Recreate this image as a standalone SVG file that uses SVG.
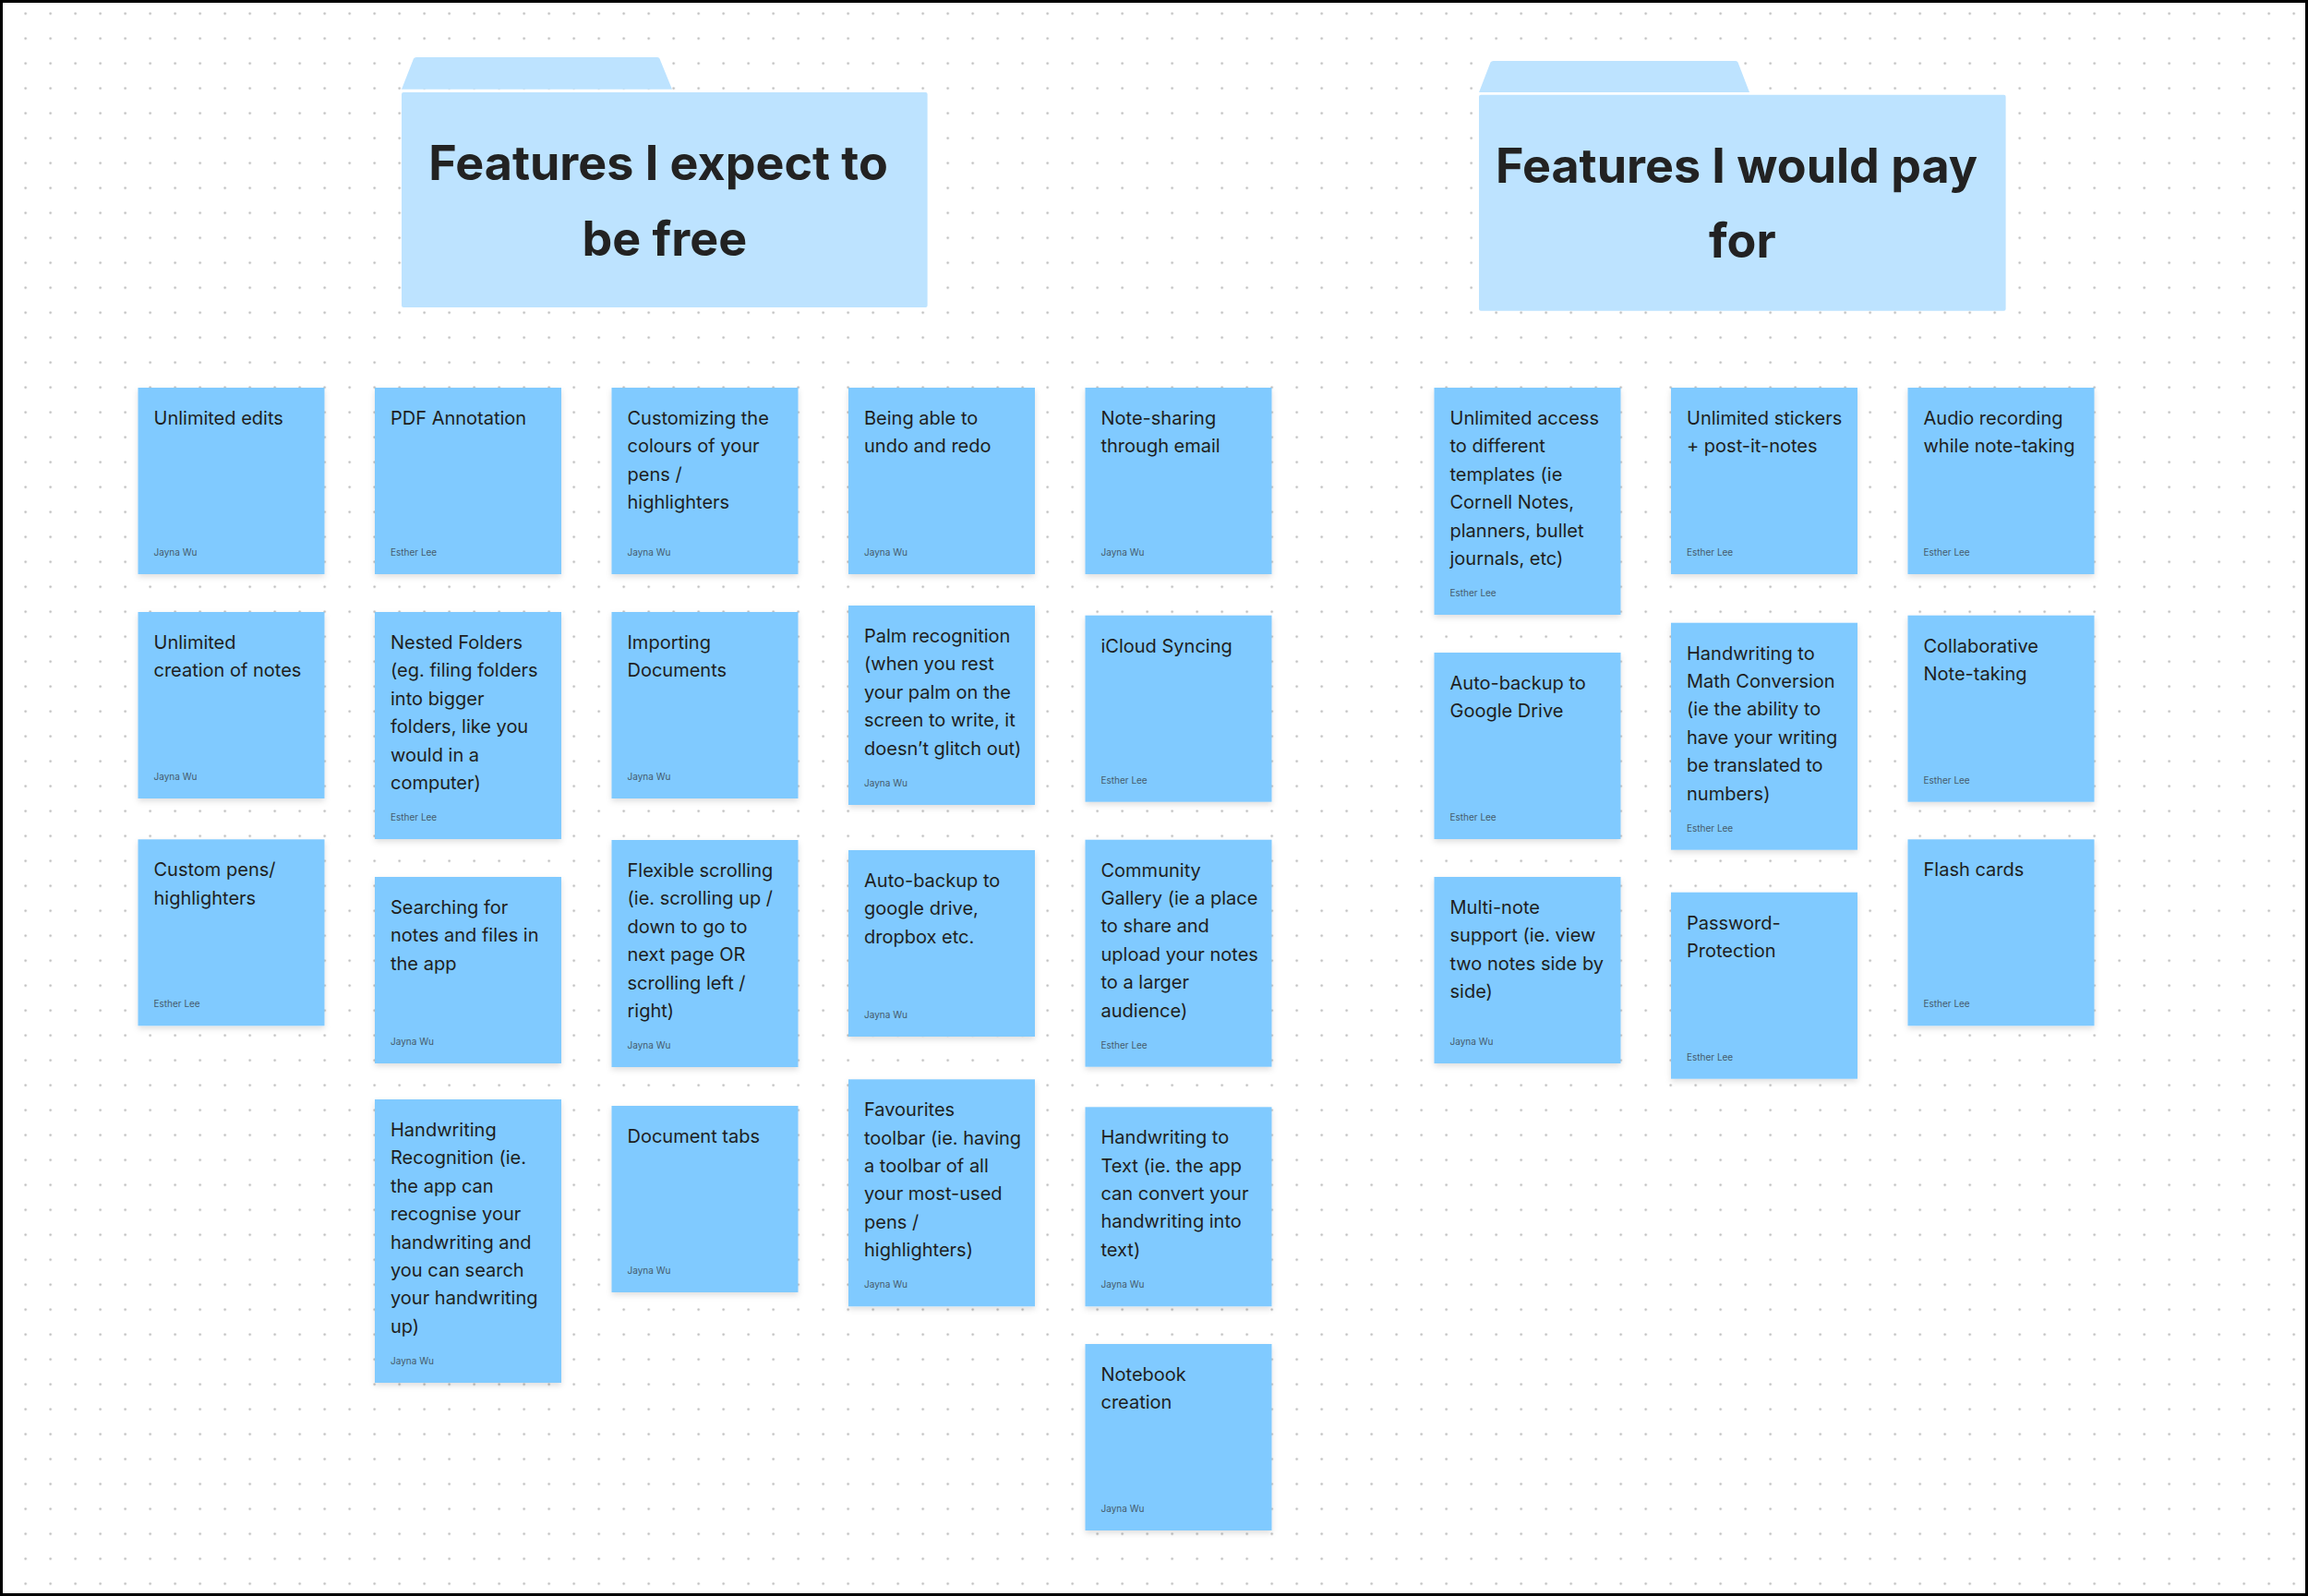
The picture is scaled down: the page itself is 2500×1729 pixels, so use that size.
<svg xmlns="http://www.w3.org/2000/svg" width="2500" height="1729" viewBox="0 0 2500 1729">
<style>
.note{fill:#80caff;filter:url(#sh)}
.t{font-family:Inter,"Noto Sans","Liberation Sans",sans-serif;font-size:20px;fill:#1e1e1e}
.a{font-family:Inter,"Noto Sans","Liberation Sans",sans-serif;font-size:10px;fill:#455b6b}
.folder{fill:#bde3ff}
.title{font-family:Inter,"Noto Sans","Liberation Sans",sans-serif;font-weight:700;font-size:52px;fill:#222222;text-anchor:middle}
</style>
<defs>
<pattern id="dots" patternUnits="userSpaceOnUse" x="-12.8" y="1.2" width="27" height="27"><circle cx="13.5" cy="13.5" r="1.2" fill="#b8b8b8"/></pattern>
<filter id="sh" x="-10%" y="-10%" width="120%" height="130%"><feDropShadow dx="0" dy="3" stdDeviation="3" flood-color="#000" flood-opacity="0.13"/></filter>
</defs>
<rect width="2500" height="1729" fill="#ffffff"/>
<rect width="2500" height="1729" fill="url(#dots)"/>

<g id="folder-free">
<path class="folder" d="M435,96.7 L448,63.5 Q449,62 451,62 L712,62 Q714,62 714.5,63.5 L728,96.7 Z"/>
<rect class="folder" x="435" y="100" width="569.6" height="233" rx="2"/>
<text class="title" x="713" y="195">Features I expect to</text>
<text class="title" x="719.8" y="276.5">be free</text>
</g>

<g id="folder-pay">
<path class="folder" d="M1602,100 L1614.5,67.5 Q1615.5,66 1617.5,66 L1880,66 Q1882,66 1882.5,67.5 L1895,100 Z"/>
<rect class="folder" x="1602" y="102.7" width="570.6" height="234" rx="2"/>
<text class="title" x="1881" y="198.3">Features I would pay</text>
<text class="title" x="1887.3" y="279.3">for</text>
</g>

<g id="connectors"></g>

<g id="n1" transform="translate(149.5,420)"><rect class="note" width="202" height="202"/><text class="t" x="17" y="40">Unlimited edits</text><text class="a" x="17" y="182">Jayna Wu</text></g>
<g id="n2" transform="translate(149.5,663)"><rect class="note" width="202" height="202"/><text class="t" y="40"><tspan x="17">Unlimited</tspan><tspan x="17" dy="30.4">creation of notes</tspan></text><text class="a" x="17" y="182">Jayna Wu</text></g>
<g id="n3" transform="translate(149.5,909.3)"><rect class="note" width="202" height="202"/><text class="t" y="40"><tspan x="17">Custom pens/</tspan><tspan x="17" dy="30.4">highlighters</tspan></text><text class="a" x="17" y="182">Esther Lee</text></g>

<g id="n4" transform="translate(406,420)"><rect class="note" width="202" height="202"/><text class="t" x="17" y="40">PDF Annotation</text><text class="a" x="17" y="182">Esther Lee</text></g>
<g id="n5" transform="translate(406,663)"><rect class="note" width="202" height="246"/><text class="t" y="40"><tspan x="17">Nested Folders</tspan><tspan x="17" dy="30.4">(eg. filing folders</tspan><tspan x="17" dy="30.4">into bigger</tspan><tspan x="17" dy="30.4">folders, like you</tspan><tspan x="17" dy="30.4">would in a</tspan><tspan x="17" dy="30.4">computer)</tspan></text><text class="a" x="17" y="226">Esther Lee</text></g>
<g id="n6" transform="translate(406,950)"><rect class="note" width="202" height="202"/><text class="t" y="40"><tspan x="17">Searching for</tspan><tspan x="17" dy="30.4">notes and files in</tspan><tspan x="17" dy="30.4">the app</tspan></text><text class="a" x="17" y="182">Jayna Wu</text></g>
<g id="n7" transform="translate(406,1191)"><rect class="note" width="202" height="307"/><text class="t" y="40"><tspan x="17">Handwriting</tspan><tspan x="17" dy="30.4">Recognition (ie.</tspan><tspan x="17" dy="30.4">the app can</tspan><tspan x="17" dy="30.4">recognise your</tspan><tspan x="17" dy="30.4">handwriting and</tspan><tspan x="17" dy="30.4">you can search</tspan><tspan x="17" dy="30.4">your handwriting</tspan><tspan x="17" dy="30.4">up)</tspan></text><text class="a" x="17" y="287">Jayna Wu</text></g>

<g id="n8" transform="translate(662.5,420)"><rect class="note" width="202" height="202"/><text class="t" y="40"><tspan x="17">Customizing the</tspan><tspan x="17" dy="30.4">colours of your</tspan><tspan x="17" dy="30.4">pens /</tspan><tspan x="17" dy="30.4">highlighters</tspan></text><text class="a" x="17" y="182">Jayna Wu</text></g>
<g id="n9" transform="translate(662.5,663)"><rect class="note" width="202" height="202"/><text class="t" y="40"><tspan x="17">Importing</tspan><tspan x="17" dy="30.4">Documents</tspan></text><text class="a" x="17" y="182">Jayna Wu</text></g>
<g id="n10" transform="translate(662.5,910)"><rect class="note" width="202" height="246"/><text class="t" y="40"><tspan x="17">Flexible scrolling</tspan><tspan x="17" dy="30.4">(ie. scrolling up /</tspan><tspan x="17" dy="30.4">down to go to</tspan><tspan x="17" dy="30.4">next page OR</tspan><tspan x="17" dy="30.4">scrolling left /</tspan><tspan x="17" dy="30.4">right)</tspan></text><text class="a" x="17" y="226">Jayna Wu</text></g>
<g id="n11" transform="translate(662.5,1198)"><rect class="note" width="202" height="202"/><text class="t" x="17" y="40">Document tabs</text><text class="a" x="17" y="182">Jayna Wu</text></g>

<g id="n12" transform="translate(919,420)"><rect class="note" width="202" height="202"/><text class="t" y="40"><tspan x="17">Being able to</tspan><tspan x="17" dy="30.4">undo and redo</tspan></text><text class="a" x="17" y="182">Jayna Wu</text></g>
<g id="n13" transform="translate(919,656)"><rect class="note" width="202" height="216"/><text class="t" y="40"><tspan x="17">Palm recognition</tspan><tspan x="17" dy="30.4">(when you rest</tspan><tspan x="17" dy="30.4">your palm on the</tspan><tspan x="17" dy="30.4">screen to write, it</tspan><tspan x="17" dy="30.4">doesn’t glitch out)</tspan></text><text class="a" x="17" y="196">Jayna Wu</text></g>
<g id="n14" transform="translate(919,921)"><rect class="note" width="202" height="202"/><text class="t" y="40"><tspan x="17">Auto-backup to</tspan><tspan x="17" dy="30.4">google drive,</tspan><tspan x="17" dy="30.4">dropbox etc.</tspan></text><text class="a" x="17" y="182">Jayna Wu</text></g>
<g id="n15" transform="translate(919,1169.3)"><rect class="note" width="202" height="246"/><text class="t" y="40"><tspan x="17">Favourites</tspan><tspan x="17" dy="30.4">toolbar (ie. having</tspan><tspan x="17" dy="30.4">a toolbar of all</tspan><tspan x="17" dy="30.4">your most-used</tspan><tspan x="17" dy="30.4">pens /</tspan><tspan x="17" dy="30.4">highlighters)</tspan></text><text class="a" x="17" y="226">Jayna Wu</text></g>

<g id="n16" transform="translate(1175.5,420)"><rect class="note" width="202" height="202"/><text class="t" y="40"><tspan x="17">Note-sharing</tspan><tspan x="17" dy="30.4">through email</tspan></text><text class="a" x="17" y="182">Jayna Wu</text></g>
<g id="n17" transform="translate(1175.5,666.7)"><rect class="note" width="202" height="202"/><text class="t" x="17" y="40">iCloud Syncing</text><text class="a" x="17" y="182">Esther Lee</text></g>
<g id="n18" transform="translate(1175.5,909.7)"><rect class="note" width="202" height="246"/><text class="t" y="40"><tspan x="17">Community</tspan><tspan x="17" dy="30.4">Gallery (ie a place</tspan><tspan x="17" dy="30.4">to share and</tspan><tspan x="17" dy="30.4">upload your notes</tspan><tspan x="17" dy="30.4">to a larger</tspan><tspan x="17" dy="30.4">audience)</tspan></text><text class="a" x="17" y="226">Esther Lee</text></g>
<g id="n19" transform="translate(1175.5,1199.3)"><rect class="note" width="202" height="216"/><text class="t" y="40"><tspan x="17">Handwriting to</tspan><tspan x="17" dy="30.4">Text (ie. the app</tspan><tspan x="17" dy="30.4">can convert your</tspan><tspan x="17" dy="30.4">handwriting into</tspan><tspan x="17" dy="30.4">text)</tspan></text><text class="a" x="17" y="196">Jayna Wu</text></g>
<g id="n20" transform="translate(1175.5,1456)"><rect class="note" width="202" height="202"/><text class="t" y="40"><tspan x="17">Notebook</tspan><tspan x="17" dy="30.4">creation</tspan></text><text class="a" x="17" y="182">Jayna Wu</text></g>

<g id="n21" transform="translate(1553.5,420)"><rect class="note" width="202" height="246"/><text class="t" y="40"><tspan x="17">Unlimited access</tspan><tspan x="17" dy="30.4">to different</tspan><tspan x="17" dy="30.4">templates (ie</tspan><tspan x="17" dy="30.4">Cornell Notes,</tspan><tspan x="17" dy="30.4">planners, bullet</tspan><tspan x="17" dy="30.4">journals, etc)</tspan></text><text class="a" x="17" y="226">Esther Lee</text></g>
<g id="n22" transform="translate(1553.5,707)"><rect class="note" width="202" height="202"/><text class="t" y="40"><tspan x="17">Auto-backup to</tspan><tspan x="17" dy="30.4">Google Drive</tspan></text><text class="a" x="17" y="182">Esther Lee</text></g>
<g id="n23" transform="translate(1553.5,950)"><rect class="note" width="202" height="202"/><text class="t" y="40"><tspan x="17">Multi-note</tspan><tspan x="17" dy="30.4">support (ie. view</tspan><tspan x="17" dy="30.4">two notes side by</tspan><tspan x="17" dy="30.4">side)</tspan></text><text class="a" x="17" y="182">Jayna Wu</text></g>

<g id="n24" transform="translate(1810,420)"><rect class="note" width="202" height="202"/><text class="t" y="40"><tspan x="17">Unlimited stickers</tspan><tspan x="17" dy="30.4">+ post-it-notes</tspan></text><text class="a" x="17" y="182">Esther Lee</text></g>
<g id="n25" transform="translate(1810,674.7)"><rect class="note" width="202" height="246"/><text class="t" y="40"><tspan x="17">Handwriting to</tspan><tspan x="17" dy="30.4">Math Conversion</tspan><tspan x="17" dy="30.4">(ie the ability to</tspan><tspan x="17" dy="30.4">have your writing</tspan><tspan x="17" dy="30.4">be translated to</tspan><tspan x="17" dy="30.4">numbers)</tspan></text><text class="a" x="17" y="226">Esther Lee</text></g>
<g id="n26" transform="translate(1810,966.7)"><rect class="note" width="202" height="202"/><text class="t" y="40"><tspan x="17">Password-</tspan><tspan x="17" dy="30.4">Protection</tspan></text><text class="a" x="17" y="182">Esther Lee</text></g>

<g id="n27" transform="translate(2066.5,420)"><rect class="note" width="202" height="202"/><text class="t" y="40"><tspan x="17">Audio recording</tspan><tspan x="17" dy="30.4">while note-taking</tspan></text><text class="a" x="17" y="182">Esther Lee</text></g>
<g id="n28" transform="translate(2066.5,666.7)"><rect class="note" width="202" height="202"/><text class="t" y="40"><tspan x="17">Collaborative</tspan><tspan x="17" dy="30.4">Note-taking</tspan></text><text class="a" x="17" y="182">Esther Lee</text></g>
<g id="n29" transform="translate(2066.5,909.3)"><rect class="note" width="202" height="202"/><text class="t" x="17" y="40">Flash cards</text><text class="a" x="17" y="182">Esther Lee</text></g>

<rect x="1.5" y="1.5" width="2497" height="1726" fill="none" stroke="#000" stroke-width="3"/>
</svg>
